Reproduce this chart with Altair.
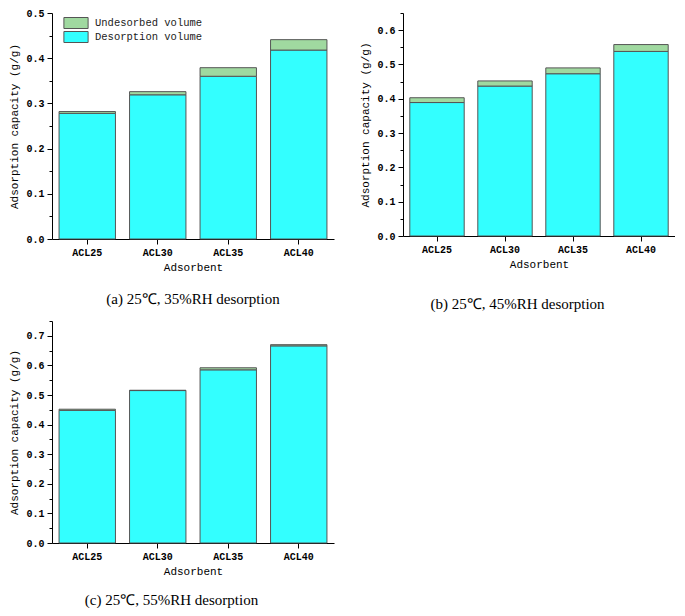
import altair as alt
import pandas as pd

categories = ["ACL25", "ACL30", "ACL35", "ACL40"]
series_names = ["Undesorbed volume", "Desorption volume"]

# (a) 25C, 35%RH
a_desorb = [0.278, 0.319, 0.360, 0.418]
a_undesorb = [0.004, 0.007, 0.019, 0.023]
# (b) 25C, 45%RH
b_desorb = [0.389, 0.437, 0.473, 0.538]
b_undesorb = [0.014, 0.015, 0.017, 0.020]
# (c) 25C, 55%RH
c_desorb = [0.448, 0.515, 0.585, 0.666]
c_undesorb = [0.004, 0.001, 0.007, 0.004]

captions = ["(a) 25℃, 35%RH desorption", "(b) 25℃, 45%RH desorption", "(c) 25℃, 55%RH desorption"]
y_max = [0.5, 0.65, 0.75]
# major (labelled) and minor (unlabelled) tick positions
y_ticks = [[0.0, 0.05, 0.1, 0.15, 0.2, 0.25, 0.3, 0.35, 0.4, 0.45, 0.5],
           [0.0, 0.05, 0.1, 0.15, 0.2, 0.25, 0.3, 0.35, 0.4, 0.45, 0.5, 0.55, 0.6, 0.65],
           [0.0, 0.05, 0.1, 0.15, 0.2, 0.25, 0.3, 0.35, 0.4, 0.45, 0.5, 0.55, 0.6, 0.65, 0.7, 0.75]]

GREEN = "#a0d9a0"
CYAN = "#33ffff"
MONO = "Liberation Mono"
IS_MINOR = "round(datum.value * 100) % 10 != 0"


def panel(desorb, undesorb, ymax, ticks, caption, w, h, lx, ly, cap_offset, cap_frame):
    rows = []
    for c, d, u in zip(categories, desorb, undesorb):
        rows.append({"Adsorbent": c, "series": "Desorption volume", "value": d, "ord": 0})
        rows.append({"Adsorbent": c, "series": "Undesorbed volume", "value": u, "ord": 1})
    df = pd.DataFrame(rows)
    return alt.Chart(df).mark_bar(stroke="#555555", strokeWidth=1, opacity=1).encode(
        x=alt.X("Adsorbent:N", sort=categories,
                scale=alt.Scale(paddingInner=0.2, paddingOuter=0.1),
                axis=alt.Axis(title="Adsorbent", labelAngle=0, labelFont=MONO, labelFontSize=10,
                              labelFontWeight="bold", titleFont=MONO, titleFontSize=11,
                              titleFontWeight="normal", tickSize=5, labelPadding=3, titlePadding=4,
                              domainColor="#000", tickColor="#000", labelColor="#000",
                              titleColor="#000")),
        y=alt.Y("value:Q", stack="zero", scale=alt.Scale(domain=[0, ymax], nice=False, zero=True),
                axis=alt.Axis(title="Adsorption capacity (g/g)",
                              values=ticks, labelOverlap=False, labelFlush=False,
                              labelExpr=IS_MINOR + " ? '' : format(datum.value, '.1f')",
                              tickSize={"condition": {"test": IS_MINOR, "value": 3}, "value": 5},
                              labelFont=MONO, labelFontSize=10, labelFontWeight="bold",
                              titleFont=MONO, titleFontSize=11, titleFontWeight="normal",
                              labelPadding=3, titlePadding=6, grid=False,
                              domainColor="#000", tickColor="#000", labelColor="#000",
                              titleColor="#000")),
        color=alt.Color("series:N", scale=alt.Scale(domain=series_names, range=[GREEN, CYAN]),
                        legend=alt.Legend(title=None, orient="none", legendX=lx, legendY=ly,
                                          symbolType="M-2.2,-1H2.2V1H-2.2Z", symbolSize=121,
                                          symbolStrokeColor="#555555", symbolStrokeWidth=1,
                                          symbolOpacity=1, labelFont=MONO, labelFontSize=10.5,
                                          labelColor="#222", labelOffset=13, rowPadding=-3,
                                          padding=0)),
        order=alt.Order("ord:Q"),
    ).properties(
        width=w, height=h,
        title=alt.TitleParams(caption, orient="bottom", font="Liberation Serif", fontSize=15,
                              fontWeight="normal", offset=cap_offset, anchor="middle",
                              frame=cap_frame, color="#000"),
    )


pa = panel(a_desorb, a_undesorb, y_max[0], y_ticks[0], captions[0], 282, 226, 18, 4, 20, "group")
pb = panel(b_desorb, b_undesorb, y_max[1], y_ticks[1], captions[1], 272, 223, 15, 3, 28, "bounds")
pc = panel(c_desorb, c_undesorb, y_max[2], y_ticks[2], captions[2], 282, 222, 13, 15, 17, "bounds")

chart = alt.vconcat(
    alt.hconcat(pa, pb, spacing=25),
    pc,
    spacing=4,
).properties(padding=0, background="white").configure_view(stroke=None)

chart.save("out.html", embed_options={"renderer": "svg", "actions": False})
